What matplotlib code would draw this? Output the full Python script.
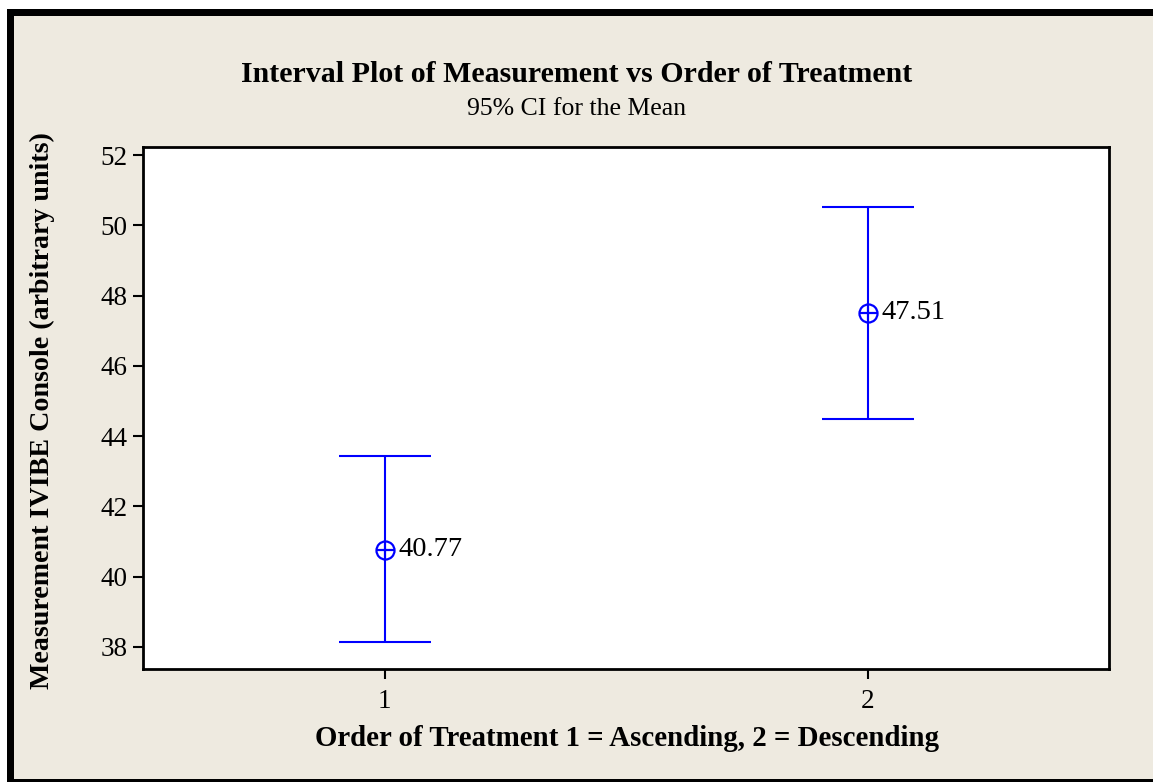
import matplotlib
matplotlib.use("Agg")
from matplotlib import pyplot as plt
from matplotlib.patches import Rectangle

# data
groups = [1, 2]
means = [40.77, 47.51]
ci_low = [38.14, 44.50]
ci_high = [43.43, 50.53]
y_ticks = [38, 40, 42, 44, 46, 48, 50, 52]

W, H = 1153, 782
BG = "#eeeae0"
BLUE = "#0000ff"

plt.rcParams["font.family"] = ["Liberation Serif", "DejaVu Serif"]

fig = plt.figure(figsize=(W / 100, H / 100), dpi=100, facecolor="white")


def px(x0, y0, x1, y1):
    # figure-fraction rectangle from pixel corners (top-left origin)
    return (x0 / W, 1 - y1 / H), (x1 - x0) / W, (y1 - y0) / H


# beige panel with thick black frame on left/top, thin at bottom
for (x0, y0, x1, y1), col in [((7, 9, W, H), BG),
                              ((7, 9, 14, H), "black"),
                              ((7, 9, W, 16), "black"),
                              ((7, 779, W, 782), "black")]:
    xy, w, h = px(x0, y0, x1, y1)
    fig.add_artist(Rectangle(xy, w, h, transform=fig.transFigure,
                             facecolor=col, edgecolor="none", zorder=0))

ax = fig.add_axes([143 / W, 1 - 669 / H, (1109 - 143) / W, (669 - 147) / H])
ax.set_facecolor("white")

for g, m, lo, hi in zip(groups, means, ci_low, ci_high):
    ax.errorbar([g], [m], yerr=[[m - lo], [hi - m]], fmt="none",
                ecolor=BLUE, elinewidth=1.5, capsize=33, capthick=1.5)
    ax.plot([g], [m], "o", ms=13, mfc="white", mec=BLUE, mew=1.6, zorder=3)
    ax.plot([g], [m], "+", ms=13, mec=BLUE, mew=1.6, zorder=4)
    ax.annotate(f"{m:.2f}", (g, m), xytext=(10, 0), textcoords="offset points",
                ha="left", va="center", fontsize=20.5)

ax.set_xlim(0.5, 2.5)
ax.set_ylim(37.37, 52.23)
ax.set_xticks(groups)
ax.set_yticks(y_ticks)
ax.tick_params(labelsize=19.5, length=7, width=1.5, direction="out")
ax.tick_params(axis="y", pad=4)
ax.tick_params(axis="x", pad=7.5)
for s in ax.spines.values():
    s.set_linewidth(2)

fig.text(0.5, 1 - 74 / H, "Interval Plot of Measurement vs Order of Treatment",
         ha="center", va="center", fontsize=21.5, fontweight="bold")
fig.text(0.5, 1 - 109 / H, "95% CI for the Mean",
         ha="center", va="center", fontsize=18.5)
fig.text(627 / W, 1 - 739 / H, "Order of Treatment 1 = Ascending, 2 = Descending",
         ha="center", va="center", fontsize=20.8, fontweight="bold")
fig.text(42 / W, 1 - 411 / H, "Measurement IVIBE Console (arbitrary units)",
         ha="center", va="center", rotation=90, fontsize=20.2, fontweight="bold")

fig.savefig("out.png", dpi=100, facecolor=fig.get_facecolor())
